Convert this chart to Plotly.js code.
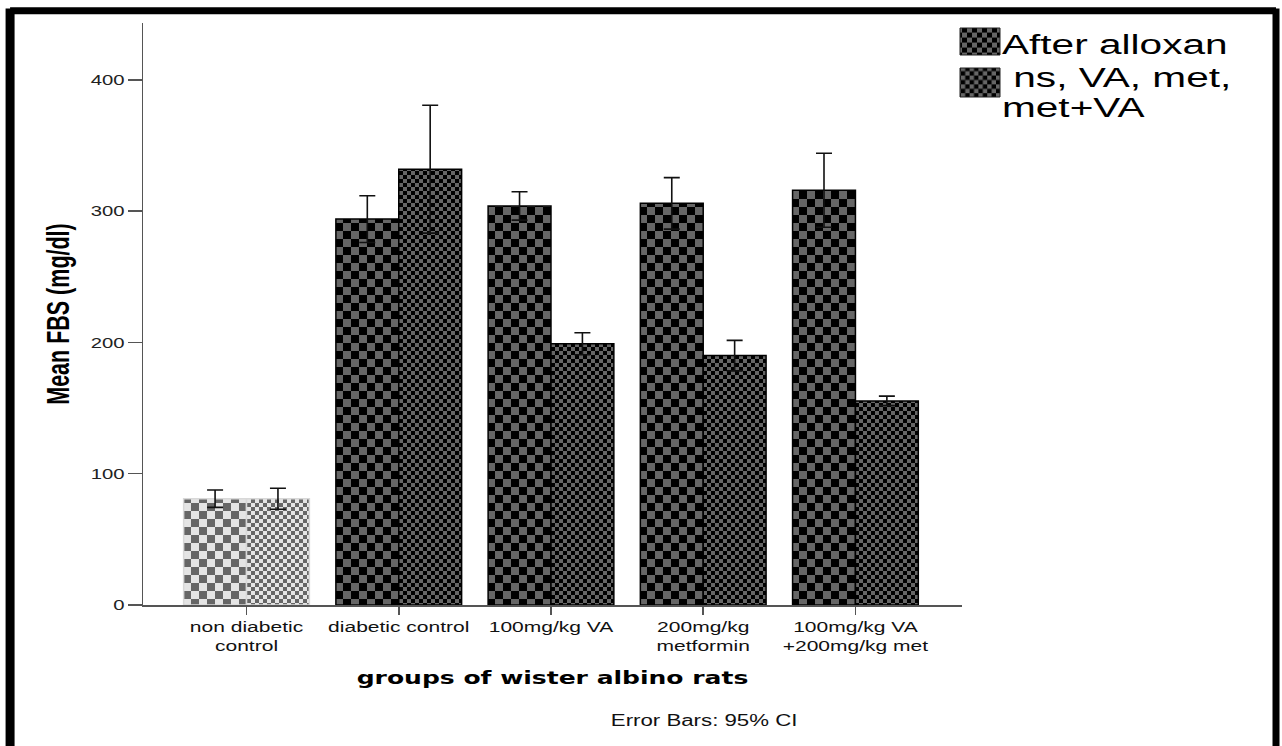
<!DOCTYPE html>
<html>
<head>
<meta charset="utf-8">
<script src="https://cdn.plot.ly/plotly-3.0.1.min.js"></script>
<style>
html,body{margin:0;padding:0;background:#fff;}
#chart{width:1282px;height:746px;}
</style>
</head>
<body>
<div id="chart"></div>
<script>
// ---- data ----
const groups = ["non diabetic<br>control", "diabetic control", "100mg/kg VA", "200mg/kg<br>metformin", "100mg/kg VA<br>+200mg/kg met"];
const seriesNames = ["After alloxan", " ns, VA, met,<br>met+VA"];
const afterAlloxan = [81, 294, 304, 306, 316];
const afterAlloxanCI = [6.6, 17.8, 10.8, 19.6, 28.2];
const treatment = [81, 332, 199, 190, 155.5];
const treatmentCI = [8, 48.7, 8.4, 11.6, 3.6];
const yTicks = [0, 100, 200, 300, 400];

// ---- styles ----
const lightBg = "#e4e4e4", darkBg = "#000000", cellGray = "#666666";
const bgColors = groups.map((g, i) => i === 0 ? lightBg : darkBg);
const lineColors = groups.map((g, i) => i === 0 ? "#d8d8d8" : "#000000");

function barTrace(name, y, ci, size) {
  return {
    type: "bar",
    name: name,
    x: groups,
    y: y,
    marker: {
      color: darkBg,
      line: {color: lineColors, width: 1.5},
      pattern: {shape: "+", size: size, solidity: 0.5, fgcolor: cellGray, bgcolor: bgColors, fillmode: "replace"}
    },
    error_y: {type: "data", array: ci, visible: true, color: "#111", thickness: 1.6, width: 8},
    hoverinfo: "x+y"
  };
}

const data = [barTrace(seriesNames[0], afterAlloxan, afterAlloxanCI, 16),
              barTrace(seriesNames[1], treatment, treatmentCI, 8)];

const layout = {
  width: 1282, height: 746,
  margin: {l: 143, r: 320, t: 23, b: 141},
  paper_bgcolor: "#fff", plot_bgcolor: "#fff",
  barmode: "group", bargap: 0.174, bargroupgap: 0,
  showlegend: true,
  legend: {x: 0.9878, xanchor: "left", y: 1.01, yanchor: "top", valign: "top",
           font: {family: "Liberation Sans, Arial, sans-serif", size: 28, color: "#000"},
           bgcolor: "rgba(0,0,0,0)", itemwidth: 40, tracegroupgap: 0},
  font: {family: "Liberation Sans, Arial, sans-serif", color: "#222"},
  xaxis: {
    type: "category", range: [-0.68, 4.70], fixedrange: true,
    showline: true, linecolor: "#555", linewidth: 1.5, mirror: false,
    ticks: "outside", ticklen: 8, tickcolor: "#555", tickwidth: 1.5,
    showgrid: false, zeroline: false,
    tickfont: {family: "Liberation Sans, Arial, sans-serif", size: 14.5, color: "#111"},
    title: {text: "groups of wister albino rats", standoff: 18,
            font: {family: "DejaVu Sans, Verdana, sans-serif", size: 18, color: "#000", weight: "bold"}}
  },
  yaxis: {
    range: [0, 443.4], fixedrange: true,
    tickvals: yTicks, ticktext: yTicks.map(String),
    showline: true, linecolor: "#555", linewidth: 1.5,
    ticks: "outside", ticklen: 14, tickcolor: "#555", tickwidth: 1.5,
    showgrid: false, zeroline: false,
    tickfont: {family: "Liberation Sans, Arial, sans-serif", size: 14.5, color: "#222"},
    title: {text: "Mean FBS (mg/dl)", standoff: 25,
            font: {family: "Liberation Sans, Arial, sans-serif", size: 21.5, color: "#000", weight: "bold"}}
  },
  annotations: [
    {text: "Error Bars: 95% CI", xref: "paper", yref: "paper", x: 0.685, y: -0.1976, xanchor: "center", yanchor: "middle",
     showarrow: false, font: {family: "Liberation Sans, Arial, sans-serif", size: 16, color: "#111"}}
  ],
  shapes: [
    {type: "line", xref: "paper", yref: "paper", x0: -0.1623, x1: 1.3834, y0: 1.021, y1: 1.021, line: {color: "#000", width: 7}},
    {type: "line", xref: "paper", yref: "paper", x0: -0.1623, x1: -0.1623, y0: 1.025, y1: -0.25, line: {color: "#000", width: 9}},
    {type: "line", xref: "paper", yref: "paper", x0: 1.3834, x1: 1.3834, y0: 1.025, y1: -0.25, line: {color: "#000", width: 7}}
  ]
};

Plotly.newPlot("chart", data, layout, {displayModeBar: false, staticPlot: true}).then(function (gd) {
  const svgNS = "http://www.w3.org/2000/svg";
  const gdBox = gd.getBoundingClientRect();
  const cy = function (el) { const r = el.getBoundingClientRect(); return (r.top + r.bottom) / 2 - gdBox.top; };

  // legend: no clipping, own (always dark) swatches, tighter spacing as in the reference
  gd.querySelectorAll(".legend [clip-path]").forEach(function (el) { el.removeAttribute("clip-path"); });
  const items = Array.from(gd.querySelectorAll(".legend .traces"));
  items.forEach(function (it) {
    it.querySelectorAll("tspan.line").forEach(function (ts, i) { ts.setAttribute("dy", (i * 1.08) + "em"); });
  });
  const wantText = [44, 77];
  items.forEach(function (it, i) {
    if (i > 1) return;
    const first = it.querySelector("tspan.line") || it.querySelector(".legendtext");
    const d = wantText[i] - cy(first);
    it.setAttribute("transform", (it.getAttribute("transform") || "") + " translate(0," + d + ")");
  });
  const wantSw = [[28, 55], [68, 97]];
  let k = 0;
  items.forEach(function (it, i) {
    const p = it.querySelector(".legendpoints path");
    if (!p) return;
    const f = p.getAttribute("fill") || p.style.fill || "";
    const m = f.match(/#([^)"']+)/);
    if (m) {
      const src = document.getElementById(m[1]);
      if (src) {
        const cl = src.cloneNode(true);
        cl.id = "legendpat" + (k++);
        cl.setAttribute("data-legend", "1");
        cl.setAttribute("patternTransform", i === 0 ? "" : "scale(1.1)");
        src.parentNode.appendChild(cl);
        p.style.fill = "url(#" + cl.id + ")";
        p.setAttribute("fill", "url(#" + cl.id + ")");
      }
    }
    p.removeAttribute("transform");
    p.style.strokeWidth = "0px";
    p.setAttribute("d", "M0,0H1V1H0Z");
    const r = p.getBoundingClientRect();
    const ox = r.left - gdBox.left, oy = r.top - gdBox.top;
    const w = wantSw[Math.min(i, 1)];
    const x0 = 960 - ox, x1 = 1000 - ox, y0 = w[0] - oy, y1 = w[1] - oy;
    p.setAttribute("d", "M" + x0 + "," + y0 + "H" + x1 + "V" + y1 + "H" + x0 + "Z");
    p.style.stroke = "#222";
    p.style.strokeWidth = "1px";
  });

  // turn Plotly's grid patterns into checkerboards
  gd.querySelectorAll("defs pattern").forEach(function (pat) {
    const s = parseFloat(pat.getAttribute("width"));
    if (!s) return;
    let bg = darkBg;
    const rect = pat.querySelector("rect");
    if (rect) bg = rect.getAttribute("fill") || rect.style.fill || bg;
    if (pat.getAttribute("data-legend")) bg = darkBg;
    while (pat.firstChild) pat.removeChild(pat.firstChild);
    const add = function (x, y, w, c) {
      const r = document.createElementNS(svgNS, "rect");
      r.setAttribute("x", x); r.setAttribute("y", y);
      r.setAttribute("width", w); r.setAttribute("height", w);
      r.setAttribute("fill", c);
      pat.appendChild(r);
    };
    add(0, 0, s, bg);
    add(0, 0, s / 2, cellGray);
    add(s / 2, s / 2, s / 2, cellGray);
  });

  // the reference's lettering is drawn horizontally stretched
  function stretch(sel, sx, sy) {
    gd.querySelectorAll(sel).forEach(function (t) {
      const x = parseFloat(t.getAttribute("x")) || 0;
      const y = parseFloat(t.getAttribute("y")) || 0;
      const tr = t.getAttribute("transform") || "";
      t.setAttribute("transform", (tr + " translate(" + x + "," + y + ") scale(" + sx + "," + sy + ") translate(" + (-x) + "," + (-y) + ")").trim());
    });
  }
  stretch(".xtick text", 1.45, 1);
  stretch(".ytick text", 1.4, 1);
  stretch(".g-xtitle text", 1.39, 1);
  stretch(".g-ytitle text", 1, 1.45);
  stretch(".legend .legendtext", 1.45, 1);
  stretch(".annotation-text", 1.39, 1);
});
</script>
</body>
</html>
